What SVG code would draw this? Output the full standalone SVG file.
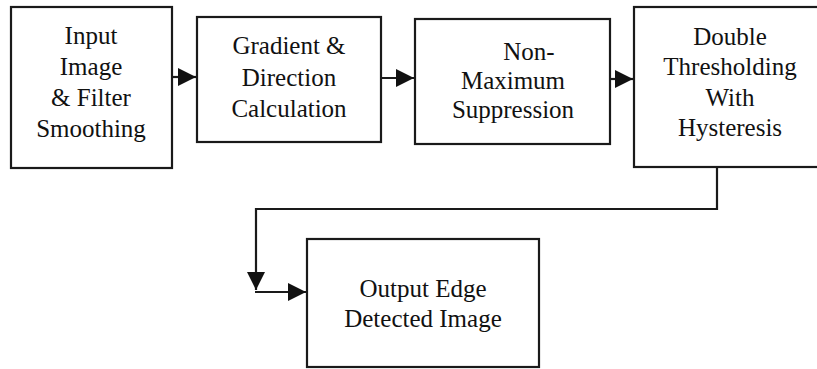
<svg xmlns="http://www.w3.org/2000/svg" width="817" height="369" viewBox="0 0 817 369">
  <defs>
    <style>
      .box { fill: #ffffff; stroke: #1a1a1a; stroke-width: 2.2; }
      .wire { fill: none; stroke: #1a1a1a; stroke-width: 2.2; }
      .lbl { font-family: "Liberation Serif", "Times New Roman", serif; font-size: 25px; fill: #111111; text-anchor: middle; }
    </style>
    <marker id="head" viewBox="0 0 18 18" refX="18" refY="9" markerWidth="18" markerHeight="18" markerUnits="userSpaceOnUse" orient="auto">
      <path d="M0,0 L18,9 L0,18 Z" fill="#111111"/>
    </marker>
  </defs>
  <rect width="817" height="369" fill="#ffffff"/>

  <!-- connectors -->
  <g id="connectors">
    <line class="wire" x1="172" y1="77" x2="196" y2="77" marker-end="url(#head)"/>
    <line class="wire" x1="381" y1="78" x2="414" y2="78" marker-end="url(#head)"/>
    <line class="wire" x1="610" y1="79" x2="633" y2="79" marker-end="url(#head)"/>
    <polyline class="wire" points="717,167 717,209 256,209 256,290" marker-end="url(#head)"/>
    <line class="wire" x1="255" y1="292" x2="306" y2="292" marker-end="url(#head)"/>
  </g>

  <!-- nodes -->
  <g id="input-image">
    <rect class="box" x="11" y="7" width="161" height="161"/>
    <text class="lbl" x="91" y="44">Input</text>
    <text class="lbl" x="91" y="75">Image</text>
    <text class="lbl" x="91" y="106">&amp; Filter</text>
    <text class="lbl" x="91" y="137">Smoothing</text>
  </g>

  <g id="gradient">
    <rect class="box" x="197" y="17" width="184" height="125"/>
    <text class="lbl" x="289" y="54">Gradient &amp;</text>
    <text class="lbl" x="289" y="86">Direction</text>
    <text class="lbl" x="289" y="117">Calculation</text>
  </g>

  <g id="non-max">
    <rect class="box" x="415" y="19" width="195" height="125"/>
    <text class="lbl" x="529" y="60">Non-</text>
    <text class="lbl" x="513" y="89">Maximum</text>
    <text class="lbl" x="513" y="118">Suppression</text>
  </g>

  <g id="threshold">
    <rect class="box" x="634" y="7" width="192" height="160"/>
    <text class="lbl" x="730" y="45">Double</text>
    <text class="lbl" x="730" y="75">Thresholding</text>
    <text class="lbl" x="730" y="106">With</text>
    <text class="lbl" x="730" y="136">Hysteresis</text>
  </g>

  <g id="output">
    <rect class="box" x="307" y="239" width="232" height="128"/>
    <text class="lbl" x="423" y="297">Output Edge</text>
    <text class="lbl" x="423" y="327">Detected Image</text>
  </g>
</svg>
